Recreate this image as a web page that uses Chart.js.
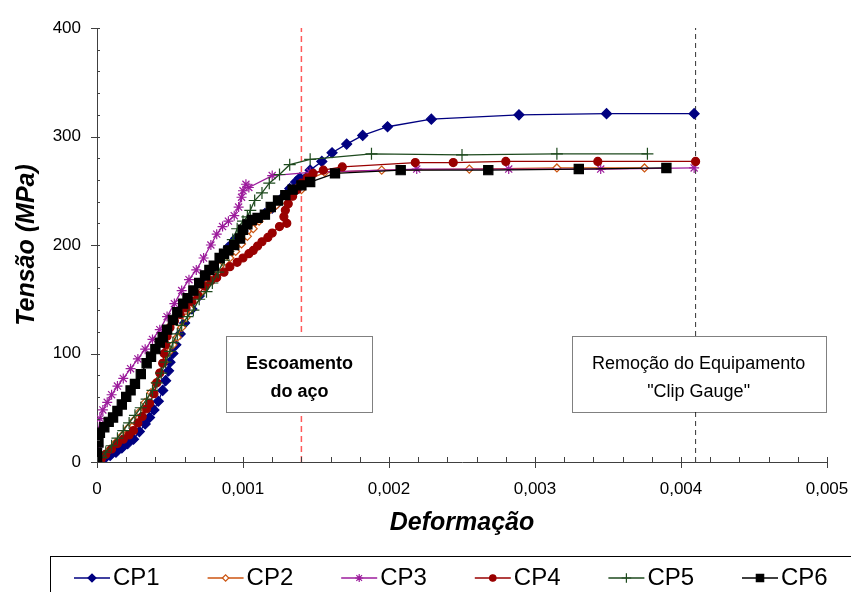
<!DOCTYPE html>
<html>
<head>
<meta charset="utf-8">
<script src="https://cdn.jsdelivr.net/npm/chart.js@4.4.0/dist/chart.umd.min.js"></script>
<style>
html, body { margin: 0; padding: 0; background: #fff; overflow: hidden; }
</style>
</head>
<body>
<canvas id="stressChart" width="851" height="592"></canvas>
<script>
// strain (x) / stress in MPa (y)
const cp1 = [[0,0],[0.00002,1],[0.00005,3],[0.00009,6],[0.00013,9],[0.00017,13],[0.00021,17],[0.00025,21],[0.00029,28],[0.00033,35],[0.00036,41],[0.00039,48],[0.00042,56],[0.00045,66],[0.00047,75],[0.00049,84],[0.0005,92],[0.00052,100],[0.00054,108],[0.00057,118],[0.0006,128],[0.00065,141],[0.0007,153],[0.00075,165],[0.0008,177],[0.00085,188],[0.0009,198],[0.00095,206],[0.001,213],[0.00105,219],[0.0011,224],[0.00115,229],[0.0012,234],[0.00124,239],[0.00128,245],[0.00132,252],[0.00136,258],[0.00139,262],[0.00146,269],[0.00154,277],[0.00161,285],[0.00171,293],[0.00182,301],[0.00199,309],[0.00229,316],[0.00289,320],[0.00349,321],[0.00409,321]];
const cp2 = [[0,0],[0.00002,3],[0.00005,7],[0.00009,12],[0.00013,18],[0.00017,24],[0.00021,31],[0.00025,38],[0.00029,46],[0.00033,55],[0.00037,64],[0.0004,73],[0.00043,82],[0.00046,92],[0.00049,101],[0.00052,108],[0.00055,115],[0.00058,124],[0.00061,133],[0.00064,141],[0.00068,150],[0.00072,158],[0.00076,165],[0.0008,172],[0.00084,180],[0.00088,185],[0.00091,188],[0.00095,194],[0.00099,201],[0.00103,208],[0.00107,215],[0.00111,222],[0.00115,228],[0.00119,233],[0.00123,237],[0.00127,241],[0.00131,246],[0.00134,249],[0.00137,253],[0.0014,251],[0.00146,261],[0.00156,267],[0.00195,269],[0.00255,270],[0.00315,271],[0.00375,271]];
const cp3 = [[0,0],[0.00001,15],[0.00001,28],[0.00002,40],[0.00004,48],[0.00007,55],[0.0001,62],[0.00014,70],[0.00018,77],[0.00023,86],[0.00028,95],[0.00033,104],[0.00038,113],[0.00043,122],[0.00048,134],[0.00053,146],[0.00058,158],[0.00063,168],[0.00068,177],[0.00073,188],[0.00078,200],[0.00082,210],[0.00086,217],[0.0009,222],[0.00094,227],[0.00097,235],[0.00099,244],[0.001,250],[0.00102,256],[0.00104,253],[0.0012,264],[0.00146,267],[0.00219,270],[0.00282,270],[0.00345,270],[0.00409,271]];
const cp4 = [[0,0],[0.00003,3],[0.00006,7],[0.0001,12],[0.00014,17],[0.00018,21],[0.00022,25],[0.00025,29],[0.00028,36],[0.00031,42],[0.00034,49],[0.00036,54],[0.00039,63],[0.00041,73],[0.00043,82],[0.00045,91],[0.00046,100],[0.00047,108],[0.00048,116],[0.0005,124],[0.00053,130],[0.00057,136],[0.00061,142],[0.00065,148],[0.00069,154],[0.00074,162],[0.00078,167],[0.00082,170],[0.00087,175],[0.00091,180],[0.00096,184],[0.001,188],[0.00104,192],[0.00107,195],[0.0011,199],[0.00113,203],[0.00117,207],[0.0012,211],[0.00125,217],[0.0013,220],[0.00128,226],[0.00129,232],[0.00131,238],[0.00134,245],[0.00137,251],[0.0014,257],[0.00144,262],[0.00148,266],[0.00155,269],[0.00168,272],[0.00218,276],[0.00244,276],[0.0028,277],[0.00343,277],[0.0041,277]];
const cp5 = [[0,0],[0.00003,4],[0.00006,9],[0.0001,15],[0.00014,22],[0.00018,29],[0.00022,36],[0.00026,43],[0.0003,50],[0.00034,58],[0.00038,66],[0.00041,73],[0.00044,82],[0.00047,92],[0.0005,102],[0.00052,110],[0.00055,118],[0.00058,126],[0.00062,134],[0.00066,140],[0.0007,150],[0.00075,157],[0.00079,165],[0.00083,175],[0.00087,186],[0.0009,194],[0.00093,205],[0.00096,215],[0.001,222],[0.00103,226],[0.00105,232],[0.00108,241],[0.00113,248],[0.00118,257],[0.00125,265],[0.00132,274],[0.00146,279],[0.00188,284],[0.0025,283],[0.00315,284],[0.00377,284]];
const cp6 = [[0,0],[0,8],[0.00001,18],[0.00002,27],[0.00005,32],[0.00008,37],[0.00011,41],[0.00014,47],[0.00017,53],[0.0002,60],[0.00023,66],[0.00026,72],[0.0003,81],[0.00034,91],[0.00037,97],[0.0004,104],[0.00043,110],[0.00045,115],[0.00048,122],[0.00052,131],[0.00055,138],[0.00059,146],[0.00062,151],[0.00066,158],[0.0007,165],[0.00074,172],[0.00077,177],[0.0008,181],[0.00084,188],[0.00087,192],[0.0009,195],[0.00094,200],[0.00098,206],[0.001,214],[0.00103,219],[0.00106,223],[0.0011,225],[0.00115,228],[0.00119,235],[0.00124,241],[0.00129,246],[0.00134,251],[0.0014,255],[0.00146,258],[0.00163,266],[0.00208,269],[0.00268,269],[0.0033,270],[0.0039,271]];

const yieldStrain = 0.0014;     // escoamento do aço
const gaugeOffStrain = 0.0041;  // remoção do clip gauge
const xTicks = [0, 0.001, 0.002, 0.003, 0.004, 0.005];
const yTicks = [0, 100, 200, 300, 400];

const FONT = "'Liberation Sans', Arial, sans-serif";

const series = [
  { label: 'CP1', data: cp1, color: '#000080', fill: '#000080', style: 'rectRot', radius: 5 },
  { label: 'CP2', data: cp2, color: '#cc5511', fill: '#ffffff', style: 'rectRot', radius: 4 },
  { label: 'CP3', data: cp3, color: '#9c1c9c', fill: '#9c1c9c', style: 'star', radius: 5 },
  { label: 'CP4', data: cp4, color: '#990000', fill: '#990000', style: 'circle', radius: 4 },
  { label: 'CP5', data: cp5, color: '#1e4a1e', fill: '#1e4a1e', style: 'cross', radius: 6 },
  { label: 'CP6', data: cp6, color: '#000000', fill: '#000000', style: 'rect', radius: 6.5 }
];

const datasets = series.map((s, i) => ({
  label: s.label,
  data: s.data.map(p => ({ x: p[0], y: p[1] })),
  showLine: true,
  borderColor: s.color,
  borderWidth: 1.3,
  pointStyle: s.style,
  pointRadius: s.radius,
  pointBorderColor: s.color,
  pointBackgroundColor: s.fill,
  pointBorderWidth: 1.2,
  order: series.length - i
}));

datasets.push({
  label: 'yield',
  data: [{ x: yieldStrain, y: 0 }, { x: yieldStrain, y: 400 }],
  showLine: true, borderColor: '#ff5a5a', borderWidth: 1.5, borderDash: [6, 4],
  pointRadius: 0, order: 20
});
datasets.push({
  label: 'gauge',
  data: [{ x: gaugeOffStrain, y: 0 }, { x: gaugeOffStrain, y: 400 }],
  showLine: true, borderColor: '#333333', borderWidth: 1, borderDash: [5, 4],
  pointRadius: 0, order: 20
});

function drawNote(ctx, cx, top, w, h, lines, font) {
  const left = Math.round(cx - w / 2) + 0.5;
  ctx.save();
  ctx.fillStyle = '#ffffff';
  ctx.fillRect(left, top, w, h);
  ctx.setLineDash([1, 1]);
  ctx.strokeStyle = '#000';
  ctx.lineWidth = 1;
  ctx.strokeRect(left, top + 0.5, w, h);
  ctx.setLineDash([]);
  ctx.fillStyle = '#000';
  ctx.font = font;
  ctx.textAlign = 'center';
  ctx.textBaseline = 'middle';
  lines.forEach((t, i) => ctx.fillText(t, cx, top + 28 + i * 28));
  ctx.restore();
}

const extras = {
  id: 'extras',
  afterDatasetsDraw(chart) {
    const { ctx, scales: { x, y } } = chart;
    const top = Math.round(y.getPixelForValue(116));
    const h = Math.round(y.getPixelForValue(46)) - top;
    drawNote(ctx, x.getPixelForValue(yieldStrain) - 2, top, 146, h,
      ['Escoamento', 'do aço'], 'bold 18px ' + FONT);
    drawNote(ctx, x.getPixelForValue(gaugeOffStrain) + 3, top, 254, h,
      ['Remoção do Equipamento', '"Clip Gauge"'], '18px ' + FONT);
  },
  afterDraw(chart) {
    const { ctx, chartArea: a, scales: { x, y } } = chart;
    ctx.save();
    ctx.strokeStyle = '#404040';
    ctx.lineWidth = 1;
    ctx.beginPath();
    for (let i = 0; i <= 20; i++) {
      const py = Math.round(y.getPixelForValue(i * 20)) + 0.5;
      ctx.moveTo(a.left - (i % 5 === 0 ? 6 : 0), py);
      ctx.lineTo(a.left + 3, py);
    }
    for (let i = 0; i <= 25; i++) {
      const px = Math.round(x.getPixelForValue(i * 0.0002)) + 0.5;
      ctx.moveTo(px, a.bottom - 5);
      ctx.lineTo(px, a.bottom + (i % 5 === 0 ? 6 : 0));
    }
    ctx.stroke();

    // legend
    ctx.strokeStyle = '#000';
    ctx.strokeRect(50.5, 556.5, 820, 60);
    ctx.font = '24px ' + FONT;
    ctx.textBaseline = 'middle';
    ctx.textAlign = 'left';
    const ly = 578;
    series.forEach((s, i) => {
      const mx = 92 + i * 133.6;
      ctx.strokeStyle = s.color;
      ctx.lineWidth = 1.3;
      ctx.beginPath();
      ctx.moveTo(mx - 18, ly);
      ctx.lineTo(mx + 18, ly);
      ctx.stroke();
      ctx.fillStyle = s.fill;
      ctx.lineWidth = 1.2;
      Chart.helpers.drawPoint(ctx, { pointStyle: s.style, radius: s.radius * 0.8, rotation: 0, borderWidth: 1.2 }, mx, ly);
      ctx.fillStyle = '#000';
      ctx.fillText(s.label, mx + 21, ly);
    });
    ctx.restore();
  }
};

new Chart(document.getElementById('stressChart'), {
  type: 'scatter',
  data: { datasets },
  options: {
    responsive: false,
    animation: false,
    layout: { padding: { top: 28, right: 24, left: 0, bottom: 0 } },
    plugins: { legend: { display: false }, tooltip: { enabled: false } },
    scales: {
      x: {
        type: 'linear', min: 0, max: 0.005,
        afterBuildTicks: s => { s.ticks = xTicks.map(v => ({ value: v })); },
        afterFit: s => { s.height = 130; s.paddingLeft = 0; s.paddingRight = 0; },
        grid: { display: false, drawTicks: false },
        border: { display: true, color: '#404040', width: 1 },
        ticks: {
          autoSkip: false, maxRotation: 0, padding: 17, color: '#000',
          font: { family: FONT, size: 17 },
          callback: v => v === 0 ? '0' : v.toFixed(3).replace('.', ',')
        },
        title: {
          display: true, text: 'Deformação', color: '#000',
          font: { family: FONT, size: 25, weight: 'bold', style: 'italic' },
          padding: { top: 0, bottom: 54 }
        }
      },
      y: {
        min: 0, max: 400,
        afterBuildTicks: s => { s.ticks = yTicks.map(v => ({ value: v })); },
        afterFit: s => { s.width = 97; s.paddingTop = 0; s.paddingBottom = 0; },
        grid: { display: false, drawTicks: false },
        border: { display: true, color: '#404040', width: 1 },
        ticks: { padding: 16, color: '#000', font: { family: FONT, size: 17 } },
        title: {
          display: true, text: 'Tensão (MPa)', color: '#000',
          font: { family: FONT, size: 25, weight: 'bold', style: 'italic' },
          padding: { top: 12, bottom: 0 }
        }
      }
    }
  },
  plugins: [extras]
});
</script>
</body>
</html>
